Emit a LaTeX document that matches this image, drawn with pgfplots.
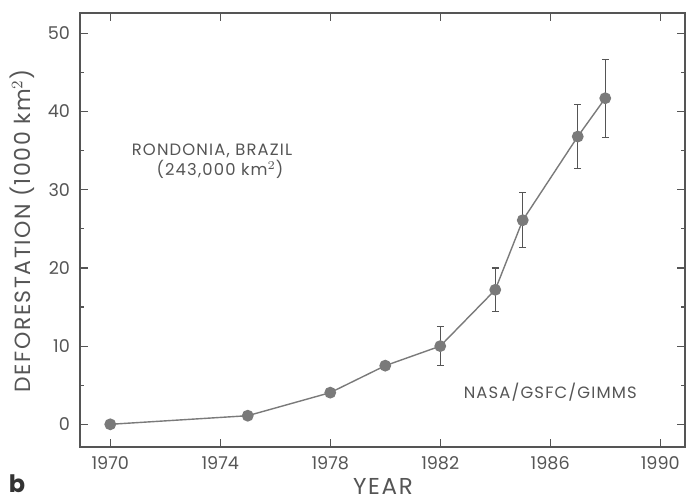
\documentclass[border=0pt]{standalone}
\usepackage{fontspec}
\setmainfont{Poppins}
\newfontfamily\spaced{Poppins}[LetterSpace=7]
\usepackage{pgfplots}
\pgfplotsset{compat=1.18}
\definecolor{ink}{HTML}{555555}
\definecolor{dot}{HTML}{7A7A7A}
\begin{document}
\begin{tikzpicture}
\useasboundingbox (-40pt,-27pt) rectangle (303.5pt,223.5pt);
\begin{axis}[
  at={(0,0)}, anchor=south west,
  scale only axis, width=302.5pt, height=217pt,
  xmin=1968.9, xmax=1990.9, ymin=-2.9, ymax=52.6,
  xtick={1970,1974,...,1990}, ytick={0,10,...,50},
  minor x tick num=3, minor y tick num=1,
  tick align=inside, tick pos=both,
  major tick length=4pt, minor tick length=1.8pt,
  axis line style={ink, line width=0.6pt},
  every tick/.style={ink, line width=0.6pt},
  /pgf/number format/1000 sep={},
  /pgf/number format/assume math mode=true,
  ticklabel style={font=\fontsize{8.8}{9}\selectfont, text=ink},
  xticklabel style={yshift=-1pt},
  yticklabel style={xshift=-1.5pt},
  clip=false,
]
\addplot[dot, line width=0.7pt, mark=*, mark size=2.6pt,
  mark options={fill=dot, draw=dot},
  error bars/.cd, y dir=both, y explicit,
  error bar style={ink, line width=0.6pt},
  error mark options={rotate=90, mark size=1.7pt, ink, line width=0.6pt}]
  table[x=year, y=def, y error=err] {
year def  err
1970 0.0  0
1975 1.1  0
1978 4.05 0
1980 7.5  0
1982 10.0 2.5
1984 17.2 2.8
1985 26.1 3.5
1987 36.8 4.1
1988 41.7 5.0
};
\node[text=ink, font=\spaced\fontsize{8.2}{9.5}\selectfont, align=center] at (axis cs:1973.7,33.7)
  {RONDONIA, BRAZIL\\[0.5pt]\hspace*{8pt}(243,000 km$^{2}$)};
\node[text=ink, font=\spaced\fontsize{8.2}{9}\selectfont] at (axis cs:1986.0,4.1) {NASA/GSFC/GIMMS};
\end{axis}
% axis titles
\node[inner sep=0pt, text=ink, font=\spaced\fontsize{11.5}{12}\selectfont] at (151.5pt,-19.5pt) {YEAR};
\node[inner sep=0pt, text=ink, rotate=90, font=\spaced\fontsize{11}{12}\selectfont] at (-29pt,108pt)
  {DEFORESTATION (1000 km$^{2}$)};
\node[inner sep=0pt, font=\fontsize{12}{12}\selectfont\bfseries, text=black!80] at (-31.5pt,-18.5pt) {b};
\end{tikzpicture}
\end{document}
